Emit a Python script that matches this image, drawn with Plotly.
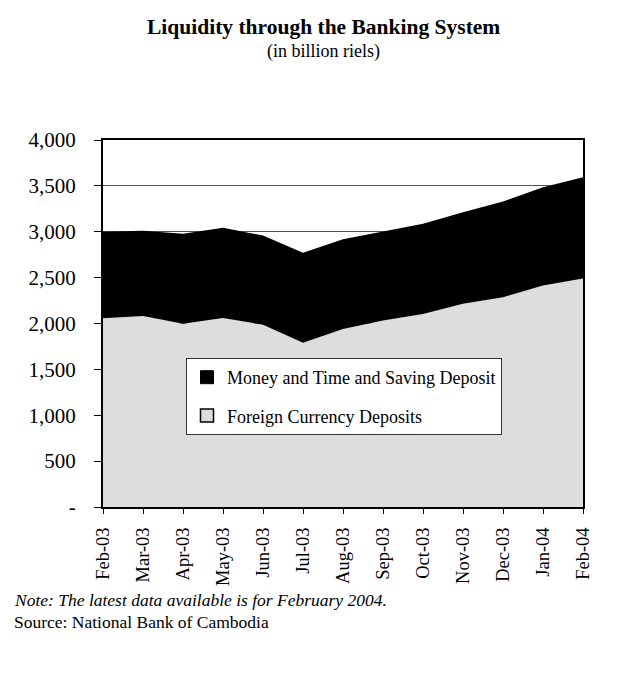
import plotly.graph_objects as go

months = ["Feb-03", "Mar-03", "Apr-03", "May-03", "Jun-03", "Jul-03", "Aug-03",
          "Sep-03", "Oct-03", "Nov-03", "Dec-03", "Jan-04", "Feb-04"]
foreign_currency = [2056, 2082, 1998, 2060, 1987, 1791, 1940, 2034, 2103, 2216, 2285, 2415, 2491]
money_time_saving = [943, 928, 979, 983, 972, 980, 979, 969, 983, 997, 1044, 1070, 1103]
y_tick_vals = [0, 500, 1000, 1500, 2000, 2500, 3000, 3500, 4000]
y_tick_text = ["-", "500", "1,000", "1,500", "2,000", "2,500", "3,000", "3,500", "4,000"]

FONT = "Liberation Serif, Times New Roman, serif"

# plot area in pixels
L, R, T, B = 95, 575, 132, 499
PW, PH = R - L, B - T

fig = go.Figure()
fig.add_trace(go.Scatter(x=months, y=foreign_currency, mode="lines", stackgroup="one",
                         line=dict(width=0, color="#DDDDDD"), fillcolor="#DDDDDD",
                         showlegend=False, hoverinfo="skip"))
fig.add_trace(go.Scatter(x=months, y=money_time_saving, mode="lines", stackgroup="one",
                         line=dict(width=0, color="#000000"), fillcolor="#000000",
                         showlegend=False, hoverinfo="skip"))
# legend entries
fig.add_trace(go.Scatter(x=[None], y=[None], mode="markers", name="Money and Time and Saving Deposit",
                         legendgroup="a",
                         marker=dict(symbol="square", size=13, color="#000000",
                                     line=dict(color="#000000", width=1))))
fig.add_trace(go.Scatter(x=[None], y=[None], mode="markers", name="Foreign Currency Deposits",
                         legendgroup="b",
                         marker=dict(symbol="square", size=13, color="#DDDDDD",
                                     line=dict(color="#000000", width=1.5))))

fig.update_layout(
    width=628, height=686,
    margin=dict(l=L, r=628 - R, t=T, b=686 - B, autoexpand=False),
    paper_bgcolor="white", plot_bgcolor="white",
    font=dict(family=FONT, color="black", size=18),
    showlegend=True,
    legend=dict(x=(178 - L) / PW, y=(B - 350) / PH, xanchor="left", yanchor="top",
                bgcolor="white", bordercolor="#333333", borderwidth=1,
                font=dict(family=FONT, size=18, color="black"),
                tracegroupgap=12, traceorder="grouped", itemwidth=30),
    xaxis=dict(type="category", range=[0, 12], tickangle=-90,
               showline=True, linecolor="black", linewidth=2, mirror=True,
               ticks="outside", ticklen=5, tickcolor="black", tickwidth=1,
               ticklabelstandoff=6,
               showgrid=False, tickfont=dict(family=FONT, size=18.5)),
    yaxis=dict(range=[0, 4000], tickvals=y_tick_vals, ticktext=y_tick_text,
               showline=True, linecolor="black", linewidth=2, mirror=True,
               ticks="outside", ticklen=7, tickcolor="black", tickwidth=1,
               ticklabelstandoff=14,
               showgrid=True, gridcolor="#555555", gridwidth=1, zeroline=False,
               tickfont=dict(family=FONT, size=21)),
)
fig.add_annotation(text="<b>Liquidity through the Banking System</b>", xref="paper", yref="paper",
                   x=(315 - L) / PW, y=1.0 + (T - 19) / PH, xanchor="center", yanchor="middle",
                   showarrow=False, font=dict(family=FONT, size=21.5))
fig.add_annotation(text="(in billion riels)", xref="paper", yref="paper",
                   x=(315 - L) / PW, y=1.0 + (T - 43) / PH, xanchor="center", yanchor="middle",
                   showarrow=False, font=dict(family=FONT, size=18))
fig.add_annotation(text="<i>Note: The latest data available is for February 2004.</i>",
                   xref="paper", yref="paper", x=(4 - L) / PW, y=-(592 - B) / PH,
                   xanchor="left", yanchor="middle", showarrow=False,
                   font=dict(family=FONT, size=17.5))
fig.add_annotation(text="Source: National Bank of Cambodia",
                   xref="paper", yref="paper", x=(4 - L) / PW, y=-(614 - B) / PH,
                   xanchor="left", yanchor="middle", showarrow=False,
                   font=dict(family=FONT, size=17.5))

fig.write_html("out.html")
